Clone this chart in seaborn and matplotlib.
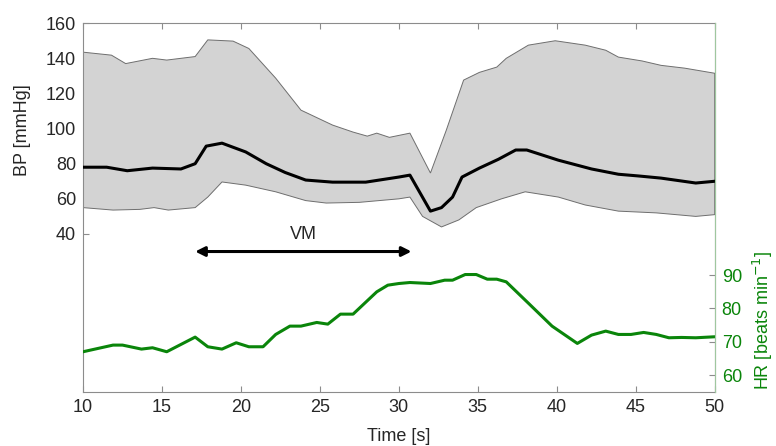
import matplotlib
matplotlib.use("Agg")
import matplotlib.pyplot as plt
import numpy as np
import pandas as pd
import seaborn as sns

# mean blood pressure
bp_t = [10, 11.5, 12.8, 14.4, 16.2, 17.1, 17.8, 18.8, 20.3, 21.6, 22.8, 24.1, 25.8,
        27.9, 30.0, 30.7, 32.0, 32.7, 33.4, 34.0, 35.1, 36.3, 37.4, 38.1, 40.1,
        42.2, 43.9, 45.2, 46.6, 48.8, 50]
bp_mean = [78, 78, 76, 77.5, 77, 80, 90, 91.7, 86.7, 80, 75, 70.7, 69.5,
           69.5, 72.4, 73.5, 53, 55, 61, 72.4, 77.5, 82.5, 87.8, 87.8, 82,
           77, 74, 73, 71.8, 69, 70]

# upper / lower bound of band
up_t = [10, 11.8, 12.7, 14.4, 15.3, 17.1, 17.9, 19.5, 20.5, 22.2, 23.8, 25.8, 27.1,
        28.0, 28.6, 29.4, 30.7, 32.0, 33.0, 34.1, 35.1, 36.2, 36.8, 38.2, 39.9,
        41.8, 43.1, 43.9, 45.4, 46.6, 48.1, 50]
bp_upper = [143.5, 141.8, 137, 140, 139, 141, 150.5, 149.8, 145.6, 128.7, 110.5, 102, 98,
            95.7, 97.4, 95, 97.4, 74.7, 99, 127.6, 132, 135, 140, 147.5, 150,
            147.5, 144.6, 140.7, 138.5, 136, 134.4, 131.5]
lo_t = [10, 11.9, 13.6, 14.5, 15.4, 17.1, 17.9, 18.8, 20.3, 22.2, 24.1, 25.4, 27.5,
        30.0, 30.7, 31.5, 32.7, 33.8, 34.9, 36.5, 38.0, 40.1, 41.8, 43.9, 46.3, 48.8, 50]
bp_lower = [55, 53.6, 54, 55, 53.6, 55, 61, 69.6, 67.8, 64, 59, 57.6, 58,
            60, 61, 50, 44, 48, 55, 60, 64, 61, 56.5, 53, 52, 50, 51]

# heart rate
hr_t = [10, 11.9, 12.5, 13.7, 14.4, 15.3, 17.1, 17.9, 18.8, 19.7, 20.5, 21.4, 22.2,
        23.1, 23.8, 24.8, 25.5, 26.3, 27.1, 28.6, 29.3, 30.0, 30.7, 32.0, 32.9,
        33.4, 34.2, 34.9, 35.6, 36.2, 36.8, 38.2, 39.7, 41.3, 42.2, 43.1, 43.9,
        44.7, 45.5, 46.3, 47.1, 47.9, 48.8, 50]
hr = [67, 69, 69, 67.8, 68.2, 67, 71.4, 68.5, 67.8, 69.7, 68.5, 68.5, 72.2,
      74.7, 74.7, 75.8, 75.3, 78.3, 78.3, 85, 87, 87.5, 87.8, 87.5, 88.5,
      88.5, 90.2, 90.2, 88.8, 88.8, 88, 81.6, 74.7, 69.5, 72, 73.2, 72.2,
      72.2, 72.8, 72.2, 71.2, 71.3, 71.2, 71.5]

vm_start, vm_end = 17.1, 30.8

sns.set_style("white")
plt.rcParams["font.family"] = ["Liberation Sans", "DejaVu Sans"]
plt.rcParams["font.size"] = 13

green = "#0a850a"
spine_col = "#8c8c8c"

fig = plt.figure(figsize=(7.76, 4.46), dpi=100)
ax = fig.add_axes([0.107, 0.121, 0.814, 0.827])

band_x = np.concatenate([up_t, lo_t[::-1]])
band_y = np.concatenate([bp_upper, bp_lower[::-1]])
ax.fill(band_x, band_y, facecolor="#d3d3d3", edgecolor="#6e6e6e", linewidth=0.7, zorder=1)

df_bp = pd.DataFrame({"t": bp_t, "bp": bp_mean})
sns.lineplot(data=df_bp, x="t", y="bp", color="black", linewidth=2.2, ax=ax, zorder=3)

ax.annotate("", xy=(vm_start, 30), xytext=(vm_end, 30),
            arrowprops=dict(arrowstyle="<|-|>", color="black", lw=2.2,
                            mutation_scale=14, shrinkA=0, shrinkB=0))
ax.text((vm_start + vm_end) / 2, 35, "VM", ha="center", va="bottom", fontsize=13)

ax.set_xlim(10, 50)
ax.set_ylim(-50, 160)
ax.set_yticks([40, 60, 80, 100, 120, 140, 160])
ax.set_xticks([10, 15, 20, 25, 30, 35, 40, 45, 50])
ax.set_xlabel("Time [s]", fontsize=13)
ax.set_ylabel("BP [mmHg]", fontsize=13)
ax.yaxis.set_label_coords(-0.082, 0.71)
ax.xaxis.set_label_coords(0.5, -0.097)
ax.tick_params(direction="in", length=4, width=0.8, color=spine_col,
               labelsize=13, top=True, bottom=True, left=True, right=False, pad=5)
for s in ax.spines.values():
    s.set_color(spine_col)
    s.set_linewidth(0.8)

ax2 = ax.twinx()
df_hr = pd.DataFrame({"t": hr_t, "hr": hr})
sns.lineplot(data=df_hr, x="t", y="hr", color=green, linewidth=2.2, ax=ax2)
ax2.set_ylim(54.9, 165.7)
ax2.set_yticks([60, 70, 80, 90])
ax2.set_ylabel("HR [beats min$^{-1}$]", color=green, fontsize=13)
ax2.yaxis.set_label_coords(1.057, 0.195)
ax2.tick_params(axis="y", direction="in", length=4, width=0.8, color=spine_col,
                labelsize=13, labelcolor=green, pad=5)
ax2.spines["right"].set_color("#9fc79f")
for k in ["top", "left", "bottom"]:
    ax2.spines[k].set_visible(False)

fig.savefig("out.png", dpi=100, facecolor="white")
